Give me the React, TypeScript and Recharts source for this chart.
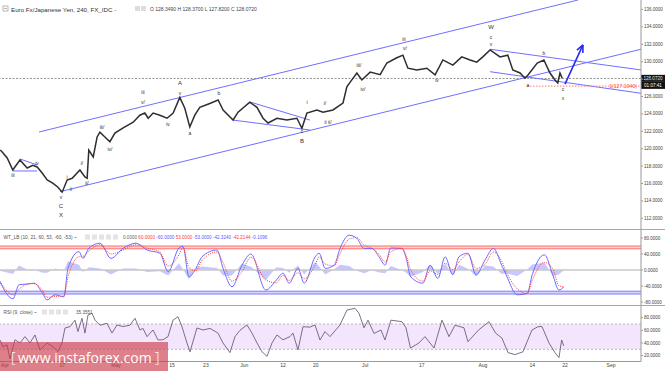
import React from "react";
import { ComposedChart, Line, Area, XAxis, YAxis, ReferenceLine, ReferenceArea, Scatter } from "recharts";

// ---------- data ----------
const D_MIN = -0.9;
const D_MAX = 114.6;

const priceDays = [-0.85,-0.5,0.4,1.4,2.7,4.0,5.0,5.8,6.7,7.6,8.6,9.5,10.3,11.2,12.1,13.5,14.4,14.8,15.1,15.9,16.6,17.1,18.0,18.9,19.8,21.3,23.1,24.3,25.2,25.8,26.7,27.9,29.2,30.3,31.5,32.4,33.3,34.2,35.1,36.9,38.4,39.3,41.1,42.0,44.1,45.4,46.5,47.4,49.0,50.8,52.6,53.5,54.4,56.2,57.3,59.1,60.9,61.6,62.2,63.4,64.3,65.8,67.6,68.8,70.6,71.7,72.6,74.2,76.0,77.5,78.9,80.7,82.3,83.8,85.0,86.1,87.4,89.2,90.6,91.5,92.8,93.7,94.2,95.9,97.1,98.2,99.1,99.6,100.0,100.4];
const priceClose = [119.85,119.62,118.93,117.55,118.7,117.78,118.1,117.9,117.2,116.4,116.05,115.6,115.0,116.4,116.6,117.55,116.75,116.6,119.85,119.05,121.35,121.9,121.35,120.8,121.8,122.4,123.05,123.85,124.1,123.5,124.1,123.85,123.5,124.1,125.9,124.65,122.5,123.85,124.75,125.2,125.6,124.45,123.3,124.2,125.35,124.75,123.5,122.95,123.5,123.3,123.5,122.35,124.1,124.45,124.2,124.45,125.25,127.1,127.65,128.7,127.9,128.8,128.5,129.85,130.45,130.75,129.25,129.05,129.25,128.5,130.2,129.6,130.55,130.2,129.95,130.55,131.35,130.55,130.75,129.05,128.7,128.1,128.45,129.85,130.2,128.7,127.9,127.55,128.7,128.1];

const priceTicks = [112,114,116,118,120,122,124,126,128,130,132,134,136];
const lastPrice = 128.072;
const targetLevel = 127.194;

// trend lines: [d1, p1, d2, p2]
const channelLines = [
  [6.13, 121.92, 103.24, 137.09],
  [9.91, 115.06, 114.6, 131.43],
  [87.39, 131.43, 114.6, 129.05],
  [87.39, 128.85, 114.6, 126.37],
  [2.7, 118.82, 5.77, 118.13],
  [1.44, 117.44, 5.77, 117.44],
  [44.14, 125.37, 54.95, 123.29],
  [41.08, 123.29, 54.95, 122.15],
];
const arrowLine = [100.9, 127.43, 104.14, 131.93];
const targetLine = [94.05, 114.6];

const waveDays = [1.44,5.77,10.09,10.09,10.09,11.17,11.89,13.87,14.77,17.48,18.92,24.86,24.86,29.37,31.53,31.53,33.33,38.56,53.51,53.51,54.41,57.66,58.2,63.78,64.5,71.89,72.07,77.84,87.57,87.57,87.57,94.23,97.12,100.54,100.54];
const wavePrices = [116.98,118.36,114.45,113.41,112.38,116.75,115.37,118.36,116.06,122.49,119.97,126.52,125.37,122.84,127.55,126.4,121.8,126.4,122.03,120.89,125.37,125.25,123.07,129.62,126.86,132.61,131.57,127.9,133.99,132.84,132.03,127.32,131.0,126.86,125.83];
const waveTexts = ["iii","iv","v","C","X","i","ii","i/","ii/","iii/","iv/","iii","v/","iv","A","v","a","b","c","B","i","i/","ii ii/","iii/","iv/","iii","v/","iv","W","c","v","a","b","c","x"];

const wtDays = [-0.9,1.44,2.52,3.96,5.23,6.76,7.57,9.0,10.6,11.35,13.33,14.05,15.14,17.12,19.1,21.26,23.6,25.6,27.9,29.4,31.35,32.07,33.15,34.4,35.5,38.2,39.3,40.9,42.7,44.3,47.0,48.9,50.1,51.2,52.8,53.9,55.9,56.6,57.7,59.3,60.4,62.0,63.4,64.7,66.1,67.4,68.5,69.5,71.5,72.3,73.1,75.3,76.6,78.0,79.3,80.7,81.8,83.4,84.9,86.5,88.0,89.5,90.3,92.3,94.1,95.0,97.2,98.7,99.8,100.7];
const wt1Vals = [-30,-72,-37,-35,-33,-58,-75,-62,-67,4,46,29,55,67,29,54,67,50,42,-4,55,59,-17,4,33,50,4,-42,12,40,-50,-25,-8,-33,4,-33,33,42,4,12,55,87,79,54,54,33,12,55,54,29,-17,-33,12,-21,33,-12,33,42,-12,25,54,12,-12,-62,-58,-12,38,-12,-50,-42.32];
const wt2Vals = [-28,-62,-48,-36,-34,-51,-68,-66,-65,-18,33,34,48,63,40,50,63,55,45,10,38,57,6,-2,24,45,18,-28,-4,32,-25,-32,-13,-26,-7,-22,13,33,15,10,42,77,81,62,54,39,20,45,54,36,0,-28,-2,-11,17,1,20,39,4,14,45,22,-4,-47,-59,-26,19,3,-39,-42.21];
const histVals = [-2,-10,11,1,1,-7,-7,4,-2,22,13,-5,7,4,-11,4,4,-5,-3,-14,17,2,-23,6,9,5,-14,-14,16,8,-25,7,5,-7,11,-11,20,9,-11,2,13,10,-2,-8,0,-6,-8,10,0,-7,-17,-5,14,-10,16,-13,13,3,-16,11,9,-10,-8,-15,1,14,19,-15,-11,-0.11];
const wtTicks = [80,40,0,-40,-80];

const rsiDays = [-0.9,-0.36,0.36,0.9,1.8,2.7,3.6,4.5,5.4,6.3,7.57,8.65,9.55,10.27,10.81,11.71,12.61,13.15,13.87,14.41,14.95,15.68,16.22,17.12,18.38,19.28,20.18,21.26,22.52,23.42,24.32,24.86,25.59,26.67,27.57,28.47,29.37,30.27,31.17,31.89,32.79,33.33,34.59,35.68,36.94,38.38,39.28,40.54,41.44,42.34,43.6,44.5,45.41,46.31,47.21,48.11,49.0,50.09,51.35,51.89,52.79,53.69,54.95,55.86,56.76,57.66,58.56,60.36,61.62,63.06,63.78,64.68,65.41,66.49,67.75,68.47,69.55,71.53,72.25,73.06,74.59,75.68,77.3,78.74,80.0,81.08,82.7,83.42,85.33,87.21,88.4,89.55,90.63,91.89,93.33,94.95,96.04,96.76,98.02,99.1,99.82,100.3,100.7];
const rsiVals = [44.7,34,37,15,45,40,50,40,52.6,29,40,34,26,40,63.7,65.7,76,58,79,55.6,84,87,76,68,71,55.6,68.4,66,68,79,60.5,63,50,60.5,44.7,45,50,76,81.5,65.7,40,26,63.7,60.5,63,55.6,40,24.7,50,60,68.4,55.6,40,26,18.8,40,52.6,45,50,55.6,29,65.7,65,68.4,44.7,58,50,68.4,92,94.8,87,64,76,55,60.5,44.7,76,73.6,64,32,40,50,32,76,50,68,64,42,60.5,73.6,55.6,47.6,24.7,21.6,26,60.5,65.7,66,40,24.7,16.8,44.7,35.36];
const rsiTicks = [80,60,40,20];

const dateTickDays = [0,10.3,20,30.1,36.2,43.1,50.1,56,64.9,75.1,86.1,95,100.9,109.2];
const dateTickLabels = ["Apr","17","May","15","23","Jun","12","20","Jul","17","Aug","14","22","Sep"];

// ---------- tables ----------
const priceData = priceDays.map((d, i) => ({ d, p: priceClose[i] }));
const wtData = wtDays.map((d, i) => ({ d, w1: wt1Vals[i], w2: wt2Vals[i], h: histVals[i] }));
const rsiData = rsiDays.map((d, i) => ({ d, r: rsiVals[i] }));
const waveData = waveDays.map((d, i) => ({ d, p: wavePrices[i], t: waveTexts[i] }));
const segs = channelLines.map((s) => [{ d: s[0], p: s[1] }, { d: s[2], p: s[3] }]);
const arrowData = [{ d: arrowLine[0], p: arrowLine[1] }, { d: arrowLine[2], p: arrowLine[3] }];
const targetData = [{ d: targetLine[0], p: targetLevel }, { d: targetLine[1], p: targetLevel }];
const targetLabel = [{ d: 113.9, p: targetLevel, t: "1(" + targetLevel.toFixed(4) + ")" }];

const FONT = "'Liberation Sans', Arial, sans-serif";
const BLUE = "#6f6fff";

const fmt4 = (v: number) => v.toFixed(4);
const dateFmt = (v: number) => {
  const i = dateTickDays.indexOf(v);
  return i >= 0 ? dateTickLabels[i] : "";
};

const waveShape = (props: any) => {
  const { cx, cy, payload } = props;
  if (cx == null) return <g />;
  const up = /[A-Z]/.test(payload.t);
  return (
    <text x={cx} y={cy} textAnchor="middle" dominantBaseline="central" fontSize={up ? 6 : 5} fill="#333" fontFamily={FONT}>
      {payload.t}
    </text>
  );
};

const targetShape = (props: any) => {
  const { cx, cy, payload } = props;
  if (cx == null) return <g />;
  return (
    <text x={cx} y={cy} textAnchor="end" dominantBaseline="central" fontSize={5.2} fill="#ff4d4d" fontFamily={FONT}>
      {payload.t}
    </text>
  );
};

const noDot = (props: any) => <g key={"nd" + props.index} />;

const arrowDot = (props: any) => {
  const { cx, cy, index } = props;
  if (index !== 1 || cx == null) return <g key={"ad" + index} />;
  const back = Math.atan2(39, -18);
  const L = 8;
  const s = 0.42;
  return (
    <g key="arrowhead">
      <line x1={cx} y1={cy} x2={cx + L * Math.cos(back + s)} y2={cy + L * Math.sin(back + s)} stroke="#2a2af0" strokeWidth={1.6} />
      <line x1={cx} y1={cy} x2={cx + L * Math.cos(back - s)} y2={cy + L * Math.sin(back - s)} stroke="#2a2af0" strokeWidth={1.6} />
    </g>
  );
};

const priceBox = (props: any) => {
  const vb = props.viewBox || {};
  const x = (vb.x || 0) + (vb.width || 0);
  const y = vb.y || 0;
  return (
    <g>
      <rect x={x} y={y - 3.6} width={24} height={7} fill="#111" />
      <text x={x + 12} y={y} textAnchor="middle" dominantBaseline="central" fontSize={4.6} fill="#fff" fontFamily={FONT}>
        {lastPrice.toFixed(4)}
      </text>
      <rect x={x} y={y + 3.4} width={24} height={7} fill="#111" />
      <text x={x + 12} y={y + 7} textAnchor="middle" dominantBaseline="central" fontSize={4.6} fill="#fff" fontFamily={FONT}>
        01:07:41
      </text>
    </g>
  );
};

const axisTick = { fontSize: 4.5, fill: "#444", fontFamily: FONT };

export default function App() {
  return (
    <div style={{ position: "absolute", left: 0, top: 0, width: 665, height: 371, background: "#fff", overflow: "hidden", fontFamily: FONT }}>
      {/* main price panel */}
      <div style={{ position: "absolute", left: 0, top: 0 }}>
        <ComposedChart width={665} height={229} margin={{ top: 0, right: 0, bottom: 0, left: 0 }}>
          <XAxis type="number" dataKey="d" domain={[D_MIN, D_MAX]} hide allowDataOverflow />
          <YAxis type="number" orientation="right" width={24} domain={[110.77, 137.09]} allowDataOverflow ticks={priceTicks} tickFormatter={fmt4} tick={axisTick} tickSize={2} tickMargin={1} stroke="#9a9a9a" />
          <ReferenceLine y={lastPrice} stroke="#777" strokeDasharray="2 1.5" strokeWidth={0.8} label={priceBox} />
          {segs.map((sd, i) => (
            <Line key={"seg" + i} data={sd} dataKey="p" stroke={BLUE} strokeWidth={1} dot={noDot} activeDot={false} isAnimationActive={false} />
          ))}
          <Line data={targetData} dataKey="p" stroke="#ff7a7a" strokeWidth={1} strokeDasharray="1.5 1.5" dot={noDot} activeDot={false} isAnimationActive={false} />
          <Line data={priceData} dataKey="p" stroke="#2e2e2e" strokeWidth={1.5} strokeLinejoin="miter" dot={noDot} activeDot={false} isAnimationActive={false} />
          <Line data={arrowData} dataKey="p" stroke="#2a2af0" strokeWidth={1.6} dot={arrowDot} activeDot={false} isAnimationActive={false} />
          <Scatter data={waveData} dataKey="p" shape={waveShape} isAnimationActive={false} />
          <Scatter data={targetLabel} dataKey="p" shape={targetShape} isAnimationActive={false} />
        </ComposedChart>
      </div>

      {/* WT panel */}
      <div style={{ position: "absolute", left: 0, top: 230 }}>
        <ComposedChart width={665} height={75} data={wtData} margin={{ top: 0, right: 0, bottom: 0, left: 0 }}>
          <XAxis type="number" dataKey="d" domain={[D_MIN, D_MAX]} hide allowDataOverflow />
          <YAxis type="number" orientation="right" width={24} domain={[-87.5, 100]} allowDataOverflow ticks={wtTicks} tickFormatter={fmt4} tick={axisTick} tickSize={2} tickMargin={1} stroke="#9a9a9a" />
          <ReferenceArea y1={53} y2={60} fill="#ffd6d6" fillOpacity={1} stroke="none" />
          <ReferenceLine y={60} stroke="#ff6b6b" strokeWidth={1} />
          <ReferenceLine y={53} stroke="#ff6b6b" strokeWidth={1} />
          <ReferenceArea y1={-60} y2={-53} fill="#d6d6ff" fillOpacity={1} stroke="none" />
          <ReferenceLine y={-60} stroke="#7a7aff" strokeWidth={1} />
          <ReferenceLine y={-53} stroke="#7a7aff" strokeWidth={1} />
          <ReferenceLine y={0} stroke="#c8c8c8" strokeWidth={1.5} />
          <Area dataKey="h" type="linear" baseValue={0} fill="#8f8fff" fillOpacity={0.5} stroke="none" dot={false} activeDot={false} isAnimationActive={false} />
          <Line dataKey="w1" type="monotone" stroke="#6b6bff" strokeWidth={1} dot={noDot} activeDot={false} isAnimationActive={false} />
          <Line dataKey="w2" type="monotone" stroke="#ff3b3b" strokeWidth={1} strokeDasharray="1 1.2" dot={noDot} activeDot={false} isAnimationActive={false} />
        </ComposedChart>
      </div>

      {/* RSI panel */}
      <div style={{ position: "absolute", left: 0, top: 306 }}>
        <ComposedChart width={665} height={65} data={rsiData} margin={{ top: 0, right: 0, bottom: 0, left: 0 }}>
          <XAxis type="number" dataKey="d" domain={[D_MIN, D_MAX]} allowDataOverflow ticks={dateTickDays} tickFormatter={dateFmt} tick={{ fontSize: 5, fill: "#444", fontFamily: FONT }} tickSize={0} tickMargin={1.5} height={9.5} stroke="#9a9a9a" interval={0} />
          <YAxis type="number" orientation="right" width={24} domain={[10.7, 98.4]} allowDataOverflow ticks={rsiTicks} tickFormatter={fmt4} tick={axisTick} tickSize={2} tickMargin={1} stroke="#9a9a9a" />
          <ReferenceArea y1={30} y2={70} fill="#f3e6fc" fillOpacity={1} stroke="none" />
          <ReferenceLine y={70} stroke="#b9b9b9" strokeDasharray="2 2" />
          <ReferenceLine y={30} stroke="#b9b9b9" strokeDasharray="2 2" />
          <Line dataKey="r" type="linear" stroke="#5e4a6e" strokeWidth={0.8} dot={noDot} activeDot={false} isAnimationActive={false} />
        </ComposedChart>
      </div>

      {/* overlay texts and separators */}
      <svg width={665} height={371} style={{ position: "absolute", left: 0, top: 0, pointerEvents: "none" }}>
        <line x1={0} y1={229.5} x2={665} y2={229.5} stroke="#a8a8a8" strokeWidth={1} />
        <line x1={0} y1={305.5} x2={665} y2={305.5} stroke="#a8a8a8" strokeWidth={1} />
        {/* title */}
        <rect x={3} y={6} width={5} height={5} fill="none" stroke="#888" strokeWidth={0.6} />
        <line x1={4} y1={8.5} x2={7} y2={8.5} stroke="#888" strokeWidth={0.6} />
        <text x={11} y={9} dominantBaseline="central" fontSize={6.2} fill="#333" fontFamily={FONT}>Euro Fx/Japanese Yen, 240, FX_IDC -</text>
        <rect x={135} y={6} width={5} height={5} fill="#ddd" />
        <rect x={141} y={6} width={5} height={5} fill="#ddd" />
        <text x={150} y={9} dominantBaseline="central" fontSize={5} fill="#444" fontFamily={FONT}>O 128.3490 H 128.3700 L 127.8200 C 128.0720</text>
        {/* WT header */}
        <text x={3.5} y={237} dominantBaseline="central" fontSize={4.8} fill="#555" fontFamily={FONT}>WT_LB (10, 21, 60, 53, -60, -53) ~</text>
        {[85, 92, 99, 106, 113].map((x) => (
          <rect key={"wb" + x} x={x} y={234.5} width={5} height={5} fill="#e4e4e4" />
        ))}
        <text x={123} y={237} dominantBaseline="central" fontSize={4.6} fontFamily={FONT}>
          <tspan fill="#666">0.0000 </tspan>
          <tspan fill="#ff3b3b">60.0000 </tspan>
          <tspan fill="#5a5aff">-60.0000 </tspan>
          <tspan fill="#ff3b3b">53.0000 </tspan>
          <tspan fill="#5a5aff">-53.0000 </tspan>
          <tspan fill="#5a5aff">-42.3240 </tspan>
          <tspan fill="#ff3b3b">-42.2144 </tspan>
          <tspan fill="#5a5aff">-0.1096</tspan>
        </text>
        {/* RSI header */}
        <text x={3.5} y={312} dominantBaseline="central" fontSize={4.8} fill="#555" fontFamily={FONT}>RSI (9, close) ~</text>
        {[42, 49, 56, 63].map((x) => (
          <rect key={"rb" + x} x={x} y={309.5} width={5} height={5} fill="#e4e4e4" />
        ))}
        <text x={76} y={312} dominantBaseline="central" fontSize={4.6} fill="#555" fontFamily={FONT}>35.3551</text>
        {/* watermark */}
        <rect x={0} y={342} width={168} height={29} fill="rgba(205,60,75,0.65)" />
        <text x={11} y={357} dominantBaseline="central" fontSize={14} fill="#fff" fontFamily="'Open Sans', sans-serif" fontWeight={300}>[</text>
        <text x={18} y={357} dominantBaseline="central" fontSize={14} fill="#fff" fontFamily="'Open Sans', sans-serif" fontWeight={400}>www.instaforex.com</text>
        <text x={155} y={357} dominantBaseline="central" fontSize={14} fill="#fff" fontFamily="'Open Sans', sans-serif" fontWeight={300}>]</text>
      </svg>
    </div>
  );
}
